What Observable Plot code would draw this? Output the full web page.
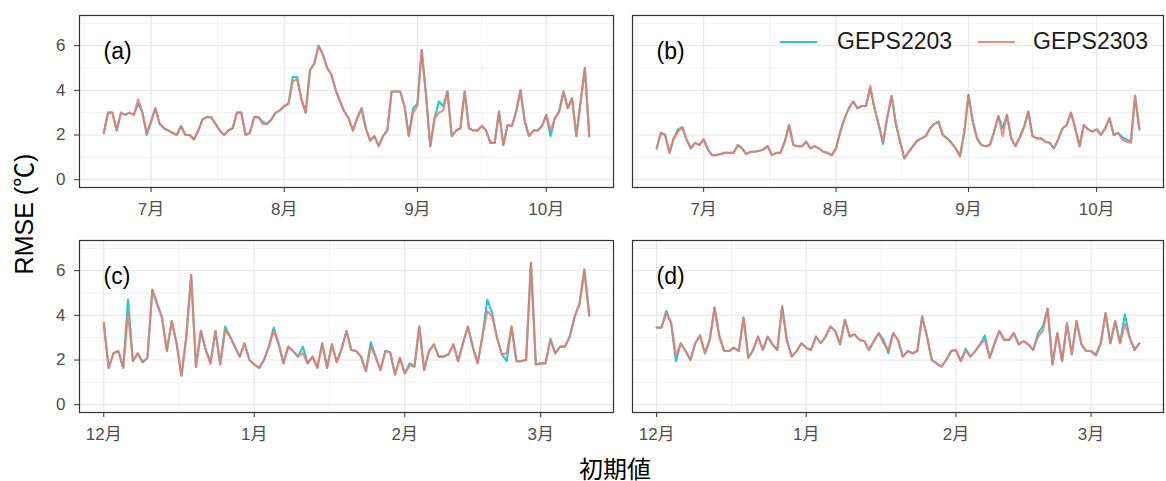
<!DOCTYPE html>
<html><head><meta charset="utf-8">
<script src="https://cdn.jsdelivr.net/npm/d3@7"></script>
<script src="https://cdn.jsdelivr.net/npm/@observablehq/plot@0.6"></script>
<style>
body{margin:0;background:#fff;}
#chart{position:relative;width:1166px;height:481px;overflow:hidden;font-family:"Liberation Sans","Noto Sans CJK JP",sans-serif;}
.pnl{position:absolute;}
.ytitle{position:absolute;left:22px;top:214px;transform:translate(-50%,-50%) rotate(-90deg);font-size:25px;white-space:nowrap;color:#000;}
.xtitle{position:absolute;left:615px;top:467px;transform:translate(-50%,-50%);font-size:24px;white-space:nowrap;color:#000;}
.cjk{font-family:"Noto Sans CJK JP",sans-serif;}
.lg{position:absolute;font-size:23px;color:#1a1a1a;line-height:1;white-space:nowrap;}
.key{position:absolute;height:0;}
</style></head>
<body><div id="chart"></div>
<script>
// ---- data ----
const seriesNames = ["GEPS2203", "GEPS2303"];
const seriesColors = ["#00BFC4", "#F8766D"];
const summerStart = "2022-06-20"; // daily initial dates
const winterStart = "2022-12-01";
const summerTicks = ["2022-07-01", "2022-08-01", "2022-09-01", "2022-10-01"];
const summerMinor = ["2022-06-15T12:00Z", "2022-07-16T12:00Z", "2022-08-16T12:00Z", "2022-09-16T00:00Z"];
const winterTicks = ["2022-12-01", "2023-01-01", "2023-02-01", "2023-03-01"];
const winterMinor = ["2022-12-16T12:00Z", "2023-01-16T12:00Z", "2023-02-14T12:00Z"];
const yTicks = [0, 2, 4, 6];
const yMinor = [1, 3, 5, 7];
const panelLabels = ["(a)", "(b)", "(c)", "(d)"];

const a2303 = [2.1,3.0,3.0,2.2,3.0,2.9,3.0,2.9,3.6,3.0,
 2.1,2.6,3.2,2.5,2.3,2.2,2.1,2.0,2.4,2.0,
 2.0,1.8,2.2,2.7,2.8,2.8,2.5,2.2,2.0,2.2,
 2.3,3.0,3.0,2.0,2.1,2.8,2.8,2.5,2.5,2.7,
 3.0,3.1,3.3,3.4,4.4,4.5,3.6,3.0,4.9,5.2,
 6.0,5.6,5.0,4.7,4.0,3.5,3.05,2.75,2.2,2.75,
 3.2,2.3,1.75,1.95,1.5,1.95,2.2,3.95,3.95,3.95,
 3.3,1.95,3.0,3.3,5.8,3.8,1.5,2.75,3.0,3.1,
 3.95,1.95,2.2,2.3,3.95,2.3,2.2,2.2,2.4,2.2,
 1.65,1.65,3.05,1.55,2.45,2.4,3.05,4.0,2.6,1.95,
 2.2,2.2,2.4,2.9,2.2,2.75,3.05,3.95,3.2,3.65,
 1.95,3.5,5.0,1.95];
const a2203 = [2.1,3.0,3.0,2.2,3.0,2.9,3.0,2.9,3.4,3.0,
 2.0,2.6,3.2,2.5,2.3,2.2,2.1,2.0,2.4,2.0,
 2.0,1.8,2.2,2.7,2.8,2.8,2.5,2.2,2.0,2.2,
 2.3,3.0,3.0,2.0,2.1,2.8,2.8,2.6,2.5,2.7,
 3.0,3.1,3.3,3.4,4.6,4.6,3.6,3.0,4.9,5.2,
 6.0,5.6,5.0,4.7,4.0,3.5,3.05,2.75,2.2,2.75,
 3.2,2.3,1.75,1.95,1.5,1.95,2.2,3.95,3.95,3.95,
 3.3,1.95,3.2,3.4,5.8,3.8,1.5,2.75,3.5,3.3,
 3.95,1.95,2.2,2.3,3.95,2.3,2.2,2.2,2.4,2.2,
 1.65,1.65,3.05,1.55,2.45,2.4,3.05,4.0,2.6,1.95,
 2.2,2.2,2.4,2.9,1.95,2.75,3.05,3.95,3.2,3.65,
 1.95,3.5,5.0,1.95];
const b2303 = [1.4,2.1,2.0,1.2,1.85,2.15,2.35,1.8,1.4,1.65,
 1.55,1.8,1.35,1.1,1.1,1.15,1.2,1.2,1.2,1.55,
 1.4,1.15,1.25,1.25,1.3,1.35,1.5,1.1,1.2,1.2,
 1.7,2.45,1.55,1.5,1.5,1.7,1.4,1.5,1.4,1.25,
 1.2,1.1,1.4,2.15,2.75,3.2,3.5,3.2,3.3,3.3,
 4.2,3.2,2.45,1.7,2.8,3.75,2.5,1.7,0.95,1.25,
 1.5,1.75,1.85,1.95,2.3,2.5,2.6,2.0,1.85,1.65,
 1.4,1.05,2.1,3.8,2.6,1.85,1.55,1.5,1.55,2.15,
 2.85,1.95,2.9,1.85,1.5,1.9,2.35,3.05,1.95,1.85,
 1.85,1.7,1.65,1.4,1.8,2.3,2.45,3.0,2.3,1.5,
 2.45,2.25,2.15,2.25,2.0,2.3,2.75,2.0,2.1,1.8,
 1.7,1.65,3.75,2.25];
const b2203 = [1.4,2.1,2.0,1.2,1.85,2.25,2.35,1.8,1.4,1.65,
 1.55,1.8,1.35,1.1,1.1,1.15,1.2,1.2,1.2,1.55,
 1.4,1.15,1.25,1.25,1.3,1.35,1.5,1.1,1.2,1.2,
 1.7,2.45,1.55,1.5,1.5,1.7,1.4,1.5,1.4,1.25,
 1.2,1.1,1.4,2.15,2.75,3.2,3.5,3.2,3.3,3.3,
 4.1,3.2,2.45,1.6,2.8,3.75,2.5,1.7,0.95,1.25,
 1.5,1.75,1.85,1.95,2.3,2.5,2.6,2.0,1.85,1.65,
 1.4,1.05,2.1,3.8,2.6,1.85,1.55,1.5,1.55,2.15,
 2.85,2.3,2.9,1.85,1.5,1.9,2.35,3.05,1.95,1.85,
 1.85,1.7,1.65,1.4,1.8,2.3,2.45,3.0,2.3,1.5,
 2.45,2.25,2.15,2.25,2.0,2.3,2.75,2.0,2.1,1.9,
 1.8,1.7,3.75,2.25];
const c2303 = [3.65,1.65,2.3,2.4,1.65,4.1,1.95,2.3,1.9,2.1,
 5.15,4.5,3.9,2.4,3.75,2.75,1.3,3.05,5.8,1.7,
 3.3,2.45,1.8,3.3,1.8,3.35,3.05,2.6,2.15,2.75,
 2.0,1.8,1.65,2.0,2.6,3.3,2.75,1.85,2.6,2.4,
 2.15,2.3,1.85,2.15,1.65,2.75,1.65,2.7,1.9,2.5,
 3.3,2.45,2.4,2.15,1.5,2.6,2.15,1.55,2.4,2.35,
 1.35,2.1,1.4,1.75,1.7,3.5,1.55,2.4,2.7,2.15,
 2.15,2.25,2.7,1.95,2.75,3.5,2.6,1.85,3.05,4.2,
 3.95,3.0,2.25,2.3,3.5,1.95,1.95,2.0,6.35,1.8,
 1.85,1.85,2.9,2.3,2.6,2.6,3.05,3.95,4.5,6.05,
 4.0];
const c2203 = [3.65,1.65,2.3,2.4,1.65,4.7,1.95,2.3,1.9,2.1,
 5.15,4.5,3.9,2.4,3.75,2.75,1.3,3.05,5.8,1.7,
 3.3,2.45,1.9,3.3,1.8,3.5,3.05,2.6,2.15,2.75,
 2.0,1.8,1.65,2.0,2.6,3.45,2.75,1.85,2.6,2.4,
 2.15,2.6,1.85,2.15,1.65,2.75,1.65,2.7,1.9,2.5,
 3.3,2.45,2.4,2.15,1.5,2.8,2.15,1.55,2.4,2.35,
 1.35,2.1,1.4,1.85,1.7,3.5,1.55,2.4,2.7,2.15,
 2.15,2.25,2.7,1.95,2.75,3.5,2.6,1.85,3.05,4.7,
 4.1,3.0,2.25,1.95,3.5,1.95,1.95,2.0,6.35,1.8,
 1.85,1.85,2.95,2.3,2.6,2.6,3.05,3.95,4.5,6.05,
 4.0];
const d2303 = [3.45,3.45,4.1,3.65,2.2,2.75,2.4,2.0,2.75,3.1,
 2.3,2.9,4.35,3.05,2.4,2.4,2.55,2.4,3.9,2.1,
 2.45,3.05,2.45,3.05,2.7,2.45,4.4,2.85,2.15,2.4,
 2.75,2.55,2.45,3.05,2.75,3.05,3.5,3.3,2.7,3.8,
 3.05,3.15,2.9,2.85,2.45,2.85,3.2,2.75,2.45,3.2,
 2.9,2.15,2.4,2.3,2.4,3.95,3.05,2.0,1.85,1.7,
 2.0,2.4,2.45,1.95,2.4,2.15,2.4,2.7,2.9,2.1,
 2.75,3.3,2.9,2.9,3.2,2.7,2.85,2.7,2.45,3.05,
 3.3,4.3,1.8,3.2,1.95,3.65,2.25,3.75,2.7,2.4,
 2.4,2.25,2.75,4.1,2.75,3.75,2.75,3.6,3.0,2.45,
 2.75];
const d2203 = [3.45,3.45,4.2,3.65,1.95,2.75,2.4,2.0,2.75,3.1,
 2.3,2.9,4.35,3.05,2.4,2.4,2.55,2.4,3.9,2.1,
 2.45,3.05,2.45,3.05,2.7,2.45,4.4,2.85,2.15,2.4,
 2.75,2.55,2.45,3.05,2.75,3.05,3.5,3.3,2.7,3.8,
 3.05,3.15,2.9,2.85,2.45,2.85,3.2,2.9,2.3,3.2,
 2.9,2.15,2.4,2.3,2.4,3.95,3.05,2.0,1.85,1.7,
 2.0,2.4,2.45,1.95,2.5,2.15,2.4,2.7,3.1,2.1,
 2.75,3.3,2.9,2.9,3.2,2.7,2.85,2.7,2.45,3.2,
 3.5,4.3,1.8,3.2,1.95,3.65,2.25,3.75,2.7,2.4,
 2.4,2.2,2.75,4.1,2.75,3.75,2.75,4.05,3.0,2.45,
 2.75];

// ---- drawing ----
const FONT = '"Liberation Sans","Noto Sans CJK JP",sans-serif';
const chart = document.getElementById("chart");
const DAY = 864e5;
const lineOpacity = [0.85, 0.85];

function makePanel({v2203, v2303, start, ticks, minor, label, showY, left, top, width, mLeft, mRight}) {
  const t0 = new Date(start).getTime();
  const rows = [];
  [v2203, v2303].forEach((vals, k) => vals.forEach((v, i) => rows.push({date: new Date(t0 + i * DAY), v, s: seriesNames[k]})));
  const ext = d3.extent(rows, d => d.date);
  const span = ext[1] - ext[0];
  const xdom = [new Date(+ext[0] - 0.05 * span), new Date(+ext[1] + 0.05 * span)];
  const tickDates = ticks.map(t => new Date(t));
  const minorDates = minor.map(t => new Date(t));
  const svg = Plot.plot({
    width, height: 222,
    marginTop: 15, marginBottom: 35, marginLeft: mLeft, marginRight: mRight,
    style: {fontFamily: FONT, background: "transparent", overflow: "visible"},
    x: {type: "utc", domain: xdom, axis: null},
    y: {domain: [-0.35, 7.35], axis: null},
    marks: [
      Plot.ruleY(yMinor, {stroke: "#ececec", strokeWidth: 0.7}),
      Plot.ruleY(yTicks, {stroke: "#e8e8e8", strokeWidth: 1.2}),
      Plot.ruleX(minorDates, {stroke: "#ececec", strokeWidth: 0.7}),
      Plot.ruleX(tickDates, {stroke: "#e8e8e8", strokeWidth: 1.2}),
      Plot.lineY(rows.filter(d => d.s === seriesNames[0]), {x: "date", y: "v", stroke: seriesColors[0], strokeWidth: 2.1, strokeOpacity: lineOpacity[0]}),
      Plot.lineY(rows.filter(d => d.s === seriesNames[1]), {x: "date", y: "v", stroke: seriesColors[1], strokeWidth: 2.1, strokeOpacity: lineOpacity[1]}),
      Plot.frame({stroke: "#333333", strokeWidth: 1.2}),
      Plot.axisX(tickDates, {label: null, tickSize: 5, tickPadding: 10, fontSize: 17, stroke: "#333333", fill: "#4d4d4d",
        tickFormat: d => `${d.getUTCMonth() + 1}月`}),
      showY ? Plot.axisY(yTicks, {label: null, tickSize: 5, tickPadding: 9, fontSize: 17, stroke: "#333333", fill: "#4d4d4d"}) : null,
      Plot.text([label], {frameAnchor: "top-left", dx: 24, dy: 36, fontSize: 23, lineAnchor: "middle", textAnchor: "start", fill: "#000"})
    ]
  });
  svg.classList.add("pnl");
  svg.style.left = left + "px";
  svg.style.top = top + "px";
  chart.appendChild(svg);
}

makePanel({v2203: a2203, v2303: a2303, start: summerStart, ticks: summerTicks, minor: summerMinor, label: panelLabels[0], showY: true, left: 0, top: 0, width: 620, mLeft: 79, mRight: 7});
makePanel({v2203: b2203, v2303: b2303, start: summerStart, ticks: summerTicks, minor: summerMinor, label: panelLabels[1], showY: false, left: 622, top: 0, width: 544, mLeft: 10, mRight: 3});
makePanel({v2203: c2203, v2303: c2303, start: winterStart, ticks: winterTicks, minor: winterMinor, label: panelLabels[2], showY: true, left: 0, top: 225, width: 620, mLeft: 79, mRight: 7});
makePanel({v2203: d2203, v2303: d2303, start: winterStart, ticks: winterTicks, minor: winterMinor, label: panelLabels[3], showY: false, left: 622, top: 225, width: 544, mLeft: 10, mRight: 3});

// axis titles
const yt = document.createElement("div"); yt.className = "ytitle";
yt.innerHTML = 'RMSE (<span class="cjk">℃</span>)'; chart.appendChild(yt);
const xt = document.createElement("div"); xt.className = "xtitle"; xt.textContent = "初期値"; chart.appendChild(xt);

// legend (inside panel b)
const legendPos = [{key: 780, text: 837}, {key: 978, text: 1033}];
seriesNames.forEach((name, i) => {
  const k = document.createElement("div");
  k.className = "key";
  k.style.left = legendPos[i].key + "px"; k.style.top = "41px"; k.style.width = "37px";
  k.style.borderTop = `2px solid ${seriesColors[i]}`;
  k.style.opacity = String(lineOpacity[i]);
  chart.appendChild(k);
  const t = document.createElement("div");
  t.className = "lg"; t.textContent = name;
  t.style.left = legendPos[i].text + "px"; t.style.top = "30px";
  chart.appendChild(t);
});
</script>
</body></html>
